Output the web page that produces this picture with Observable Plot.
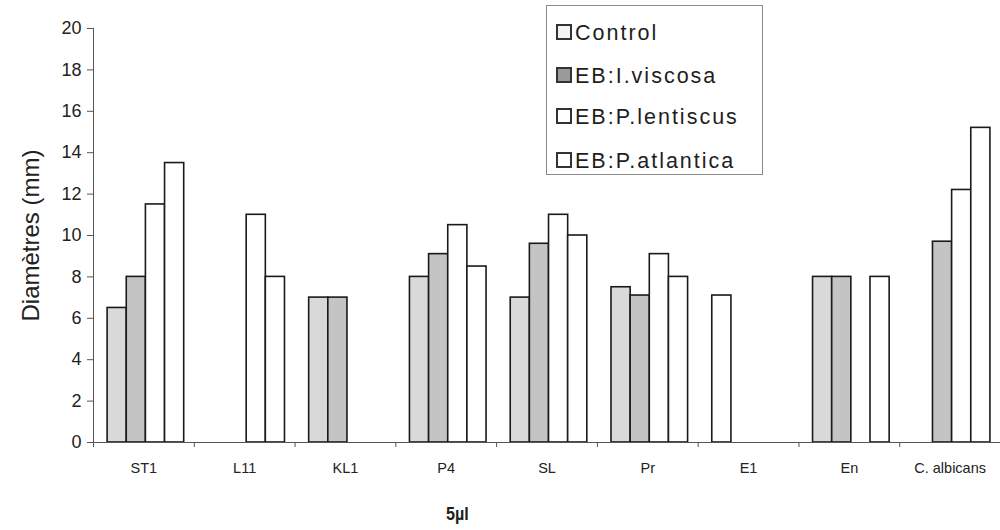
<!DOCTYPE html>
<html>
<head>
<meta charset="utf-8">
<script src="https://cdn.jsdelivr.net/npm/d3@7"></script>
<script src="https://cdn.jsdelivr.net/npm/@observablehq/plot@0.6"></script>
<style>
  body { margin: 0; background: #fff; font-family: "Liberation Sans", Arial, sans-serif; }
  #wrap { position: relative; width: 1000px; height: 530px; overflow: hidden; }
  #legend { position: absolute; left: 546px; top: 5px; width: 217px; height: 170px;
    border: 1px solid #8a8a8a; box-sizing: border-box; background: #fff; }
  .item { position: absolute; left: 9px; font-size: 21.5px; letter-spacing: 2px; color: #1e1e1e; line-height: 22px; white-space: nowrap; }
  .sw { display: inline-block; width: 12px; height: 12px; border: 2px solid #333; vertical-align: 0px; margin-right: 3px; }
  #xlab { position: absolute; left: 446px; top: 503px; font-family: "Liberation Sans", Arial, sans-serif;
    font-weight: bold; font-size: 19px; color: #1e1e1e; transform: scaleX(0.85); transform-origin: left; }
</style>
</head>
<body>
<div id="wrap">
  <div id="chart"></div>
  <div id="legend"></div>
  <div id="xlab">5µl</div>
</div>
<script>
const categories = ["ST1", "L11", "KL1", "P4", "SL", "Pr", "E1", "En", "C. albicans"];
const seriesNames = ["Control", "EB:I.viscosa", "EB:P.lentiscus", "EB:P.atlantica"];
const control   = [6.5, 0, 7, 8, 7, 7.5, 7.1, 8, 0];
const viscosa   = [8, 0, 7, 9.1, 9.6, 7.1, 0, 8, 9.7];
const lentiscus = [11.5, 11, 0, 10.5, 11, 9.1, 0, 0, 12.2];
const atlantica = [13.5, 8, 0, 8.5, 10, 8, 0, 8, 15.2];
const yTicks = [0, 2, 4, 6, 8, 10, 12, 14, 16, 18, 20];

const fills = ["#d9d9d9", "#c4c4c4", "#ffffff", "#ffffff"];
const legendFills = ["#f4f4f4", "#9a9a9a", "#ffffff", "#ffffff"];

const allSeries = [control, viscosa, lentiscus, atlantica];
const data = [];
categories.forEach((c, i) => {
  allSeries.forEach((arr, j) => {
    if (arr[i] > 0) data.push({cat: c, ci: i, sj: j, series: seriesNames[j], value: arr[i]});
  });
});

const off = 0.14, bw = 0.19;

const chart = Plot.plot({
  width: 1000,
  height: 530,
  marginLeft: 93,
  marginRight: 0,
  marginTop: 28,
  marginBottom: 88,
  style: {fontFamily: "'Liberation Sans', Arial, sans-serif", background: "#fff", color: "#222"},
  x: {domain: [0, 9], axis: null},
  y: {domain: [0, 20], axis: null},
  marks: [
    Plot.rect(data, {
      x1: d => d.ci + off + d.sj * bw,
      x2: d => d.ci + off + (d.sj + 1) * bw,
      y1: 0,
      y2: "value",
      fill: d => (d.cat === "E1" ? "#ffffff" : fills[d.sj]),
      stroke: "#1a1a1a",
      strokeWidth: 1.6
    }),
    Plot.ruleX([0], {y1: 0, y2: 20, stroke: "#555", strokeWidth: 1}),
    Plot.ruleY([0], {stroke: "#555", strokeWidth: 1}),
    Plot.axisY({ticks: yTicks, tickSize: 6, tickPadding: 6, fontSize: 18, stroke: "#555",
      label: "Diamètres (mm)", labelAnchor: "center", labelArrow: "none", labelOffset: 72}),
    Plot.axisX({ticks: d3.range(0, 10), tickSize: 5, tickFormat: () => "", stroke: "#555"}),
    Plot.axisX({ticks: categories.map((c, i) => i + 0.5), tickSize: 0, tickPadding: 20,
      tickFormat: (d) => categories[Math.floor(d)], fontSize: 14.5})
  ]
});
document.getElementById("chart").appendChild(chart);

// y label font size
chart.querySelectorAll("[aria-label='y-axis label']").forEach(el => {
  el.setAttribute("font-size", 24);
  el.querySelectorAll("text").forEach(t => t.setAttribute("font-size", 24));
});

const legend = document.getElementById("legend");
const tops = [16, 59, 100, 144];
seriesNames.forEach((n, j) => {
  const it = document.createElement("div");
  it.className = "item";
  it.style.top = tops[j] + "px";
  it.innerHTML = `<span class="sw" style="background:${legendFills[j]}"></span>${n}`;
  legend.appendChild(it);
});
</script>
</body>
</html>
